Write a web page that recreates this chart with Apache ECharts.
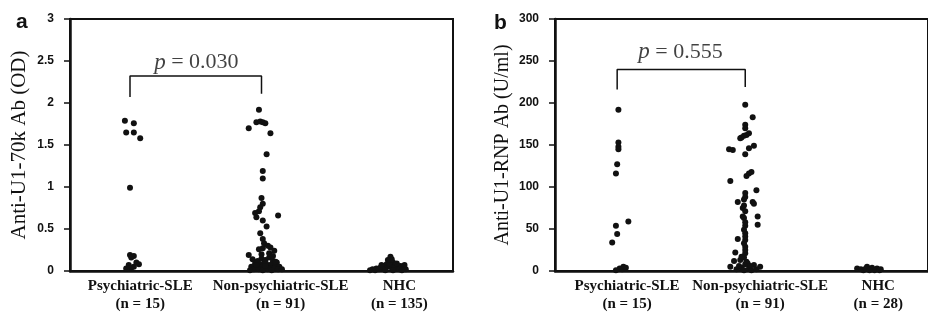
<!DOCTYPE html>
<html><head><meta charset="utf-8">
<script src="https://cdn.jsdelivr.net/npm/echarts@6/dist/echarts.min.js"></script>
<style>html,body{margin:0;padding:0;background:#fff}#c{width:928px;height:320px}</style>
</head><body><div id="c"></div>
<script>
const categories = ['Psychiatric-SLE', 'Non-psychiatric-SLE', 'NHC'];
const nA = [15, 91, 135];
const nB = [15, 91, 28];
const labelPosA = [0.55, 1.65, 2.58];
const labelPosB = [0.58, 1.65, 2.60];
const yTitleA = 'Anti-U1-70k Ab (OD)';
const yTitleB = 'Anti-U1-RNP Ab (U/ml)';
const pTextA = '0.030';
const pTextB = '0.555';
// bracket: [xStart, xEnd, yTop, yLeftLeg, yRightLeg]
const bracketA = [0.47, 1.50, 2.32, 2.07, 2.11];
const bracketB = [0.50, 1.53, 240, 216, 219];
const pLabelPosA = [0.99, 2.48];
const pLabelPosB = [1.01, 261];

// Panel a points: [x position (group + jitter), value]
const aPsych = [[0.43,1.79],[0.50,1.76],[0.44,1.65],[0.50,1.65],[0.55,1.58],[0.47,0.99],[0.47,0.19],[0.50,0.18],[0.48,0.16],[0.46,0.07],[0.54,0.08],[0.50,0.05],[0.48,0.04],[0.52,0.10],[0.44,0.03]];
const aNonPsych = [[1.48,1.92],[1.40,1.70],[1.46,1.77],[1.49,1.78],[1.51,1.77],[1.53,1.76],[1.57,1.64],[1.54,1.39],[1.51,1.19],[1.51,1.10],[1.50,0.87],[1.51,0.80],[1.49,0.76],[1.48,0.71],[1.46,0.64],[1.45,0.69],[1.63,0.66],[1.51,0.60],[1.54,0.53],[1.51,0.38],[1.51,0.27],[1.57,0.28],[1.60,0.24],[1.40,0.19],
 [1.43,0.14],[1.47,0.12],[1.50,0.15],[1.53,0.13],[1.56,0.16],[1.59,0.12],[1.62,0.10],[1.45,0.09],[1.49,0.08],[1.52,0.09],[1.55,0.07],[1.58,0.08],[1.61,0.06],[1.64,0.05],[1.42,0.05],[1.46,0.04],[1.50,0.05],[1.54,0.04],[1.57,0.03],[1.60,0.03],[1.63,0.02],[1.44,0.02],[1.48,0.02],[1.51,0.01],[1.55,0.02],[1.58,0.01],[1.47,0.10],[1.53,0.11],[1.50,0.20],[1.56,0.21],[1.48,0.26],[1.52,0.33],[1.59,0.18],[1.41,0.01],[1.66,0.02],[1.49,0.45],[1.55,0.30],[1.53,0.06],[1.46,0.07],[1.61,0.11]];
const aNHC = [[2.37,0.02],[2.40,0.03],[2.43,0.04],[2.45,0.06],[2.48,0.08],[2.50,0.12],[2.51,0.17],[2.53,0.10],[2.55,0.07],[2.57,0.05],[2.59,0.06],[2.61,0.04],[2.63,0.02],[2.39,0.01],[2.42,0.02],[2.46,0.03],[2.49,0.05],[2.52,0.04],[2.54,0.03],[2.58,0.02],[2.60,0.01],[2.47,0.01],[2.53,0.01],[2.56,0.09],[2.44,0.07],[2.50,0.09],[2.52,0.14],[2.49,0.13],[2.62,0.07],[2.35,0.01]];

// Panel b points
const bPsych = [[0.51,192],[0.51,153],[0.51,148],[0.51,145],[0.50,127],[0.49,116],[0.59,59],[0.49,54],[0.50,44],[0.46,34],[0.52,3],[0.55,5],[0.49,1],[0.54,2],[0.57,4]];
const bNonPsych = [[1.53,198],[1.59,183],[1.53,174],[1.53,170],[1.49,158],[1.50,159],[1.52,161],[1.54,162],[1.56,164],[1.40,145],[1.43,144],[1.60,149],[1.56,146],[1.53,139],[1.58,118],[1.56,116],[1.54,113],[1.41,107],[1.53,93],[1.62,96],[1.47,82],[1.52,85],[1.59,82],[1.60,80],[1.51,75],[1.53,71],[1.51,65],[1.52,63],[1.63,65],[1.63,55],[1.53,54],[1.53,45],[1.47,38],[1.53,37],[1.53,29],[1.45,22],[1.53,21],[1.44,12],[1.49,13],[1.54,11],[1.41,5],[1.65,5],[1.60,7],
 [1.53,88],[1.52,78],[1.53,58],[1.52,49],[1.53,41],[1.52,33],[1.53,25],[1.52,16],[1.53,8],[1.50,4],[1.56,3],[1.46,2],[1.58,1],[1.48,6],[1.55,9],[1.62,2],[1.52,1],[1.50,17],[1.57,6]];
const bNHC = [[2.43,3],[2.51,5],[2.55,4],[2.59,3],[2.54,2],[2.48,1],[2.46,2],[2.57,1],[2.62,2],[2.50,3],[2.53,1],[2.61,1]];

const serif = '"Liberation Serif", "DejaVu Serif", serif';
const sans = '"Liberation Sans", Arial, sans-serif';
const ink = '#111';

function xAxisFor(gridIndex, labelPos, ns) {
  return {
    type: 'value', gridIndex, min: 0, max: 3, splitLine: {show: false},
    axisLine: {show: true, lineStyle: {color: ink, width: 2.5}},
    axisTick: {show: false},
    axisLabel: {
      customValues: labelPos, margin: 6, color: ink,
      fontFamily: serif, fontSize: 15, fontWeight: 'bold', lineHeight: 18,
      formatter: function (v) {
        let k = 0, best = 1e9;
        labelPos.forEach((p, i) => { if (Math.abs(p - v) < best) { best = Math.abs(p - v); k = i; } });
        return categories[k] + '\n(n = ' + ns[k] + ')';
      }
    }
  };
}
function yAxisFor(gridIndex, max, interval, name, gap, nameSize) {
  return {
    type: 'value', gridIndex, min: 0, max, interval, splitLine: {show: false},
    axisLine: {show: true, lineStyle: {color: ink, width: 2.5}},
    axisTick: {show: true, inside: false, length: 6, lineStyle: {color: ink, width: 1.5}},
    axisLabel: {color: ink, fontFamily: sans, fontWeight: 'bold', fontSize: 12, margin: 16},
    name, nameLocation: 'middle', nameRotate: 90, nameGap: gap,
    nameTextStyle: {fontFamily: serif, fontSize: nameSize, color: ink}
  };
}
function dots(xi, data) {
  return {type: 'scatter', xAxisIndex: xi, yAxisIndex: xi, data, symbol: 'circle', symbolSize: 6,
    itemStyle: {color: ink, opacity: 1}, silent: true};
}
function bracket(xi, b) {
  return {type: 'line', xAxisIndex: xi, yAxisIndex: xi, symbol: 'none', silent: true,
    lineStyle: {color: ink, width: 1.5},
    data: [[b[0], b[3]], [b[0], b[2]], [b[1], b[2]], [b[1], b[4]]]};
}
function pLabel(xi, pos, txt, size) {
  return {type: 'scatter', xAxisIndex: xi, yAxisIndex: xi, symbolSize: 0, silent: true,
    data: [pos],
    label: {show: true, position: 'inside', formatter: '{i|p} = ' + txt,
      fontFamily: serif, fontSize: size, color: ink,
      rich: {i: {fontFamily: serif, fontStyle: 'italic', fontSize: size + 1, color: ink}}}};
}

const chart = echarts.init(document.getElementById('c'), null, {renderer: 'canvas'});
chart.setOption({
  animation: false,
  backgroundColor: '#fff',
  title: [
    {text: 'a', left: 11, top: 7, textStyle: {fontFamily: sans, fontWeight: 'bold', fontSize: 21, color: ink}},
    {text: 'b', left: 489, top: 8, textStyle: {fontFamily: sans, fontWeight: 'bold', fontSize: 21, color: ink}}
  ],
  grid: [
    {left: 70, top: 19, width: 383, height: 252, show: true, borderColor: ink, borderWidth: 2, backgroundColor: 'transparent'},
    {left: 555, top: 19, width: 375, height: 252, show: true, borderColor: ink, borderWidth: 2, backgroundColor: 'transparent'}
  ],
  xAxis: [xAxisFor(0, labelPosA, nA), xAxisFor(1, labelPosB, nB)],
  yAxis: [yAxisFor(0, 3, 0.5, yTitleA, 40, 21), yAxisFor(1, 300, 50, yTitleB, 42, 20)],
  series: [
    dots(0, aPsych), dots(0, aNonPsych), dots(0, aNHC),
    dots(1, bPsych), dots(1, bNonPsych), dots(1, bNHC),
    bracket(0, bracketA), bracket(1, bracketB),
    pLabel(0, pLabelPosA, pTextA, 22), pLabel(1, pLabelPosB, pTextB, 22)
  ]
});
</script></body></html>
